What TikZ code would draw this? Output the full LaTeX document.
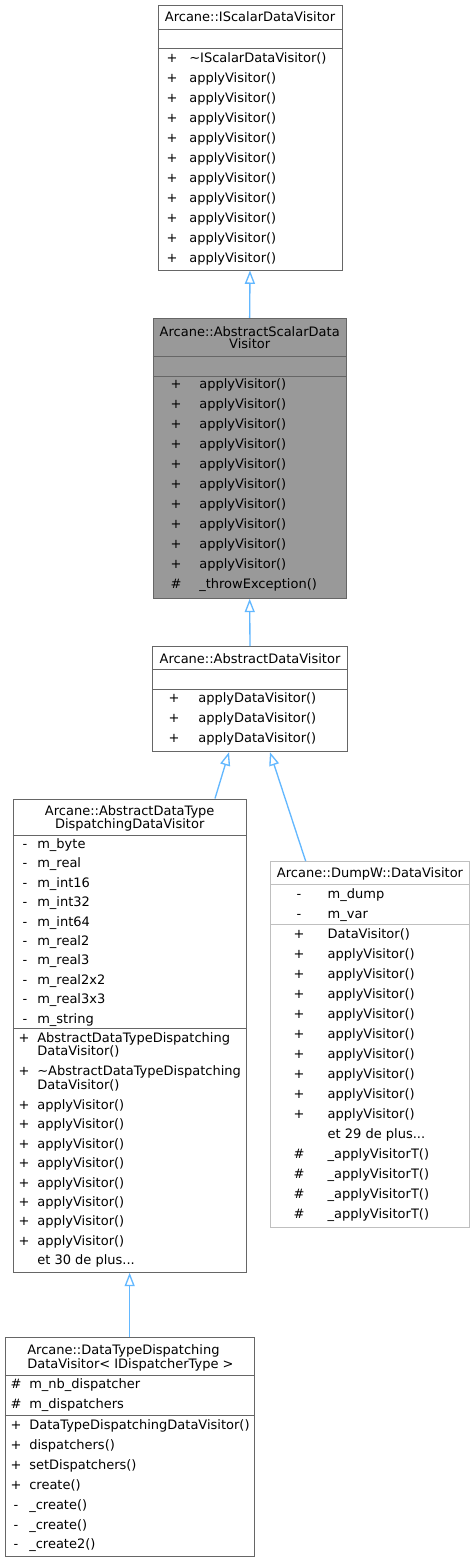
\documentclass[tikz,border=0pt]{standalone}
\usepackage{fontspec}
\setmainfont{DejaVu Sans}
\usetikzlibrary{arrows.meta,fit}
\definecolor{edgeblue}{HTML}{63B8FF}
\definecolor{boxgray}{HTML}{666666}
\definecolor{lightborder}{HTML}{BFBFBF}
\definecolor{mainfill}{HTML}{999999}
\newcommand\umlrows[6]{%
  \foreach \s/\t [count=\i] in {#6}{%
    \node[sym] (#1s\i) at (#2,{#4+#5*(\i-1)}) {\s};
    \node[lt] (#1t\i) at (#3,{#4+#5*(\i-1)}) {\t};
  }}
\begin{document}
\begin{tikzpicture}[x=0.75pt,y=-0.75pt,
  box/.style={draw=boxgray,fill=white,line width=0.75pt,inner sep=0pt},
  sepl/.style={draw=boxgray,line width=0.75pt},
  txt/.style={inner sep=0pt,outer sep=0pt,font=\fontsize{9.75pt}{12pt}\selectfont},
  lt/.style={txt,anchor=base west},
  sym/.style={txt,anchor=base},
  ttl/.style={txt,anchor=base},
  inh/.style={draw=edgeblue,line width=1pt,-{Triangle[open,length=10pt,width=7.5pt]}}]
\fill[white] (0,0) rectangle (475,1563);
\useasboundingbox (0,0) rectangle (475,1563);

% Box 1
\node[box,fit={(158,5) (342,270)}] (b1) {};
\draw[sepl] (b1.west |- 0,29) -- (b1.east |- 0,29);
\draw[sepl] (b1.west |- 0,48.7) -- (b1.east |- 0,48.7);
\node[ttl] (b1title) at (250,21.8) {Arcane::IScalarDataVisitor};
\umlrows{b1m}{172}{189.3}{62.2}{20}{+/\textasciitilde IScalarDataVisitor(), +/applyVisitor(), +/applyVisitor(), +/applyVisitor(), +/applyVisitor(), +/applyVisitor(), +/applyVisitor(), +/applyVisitor(), +/applyVisitor(), +/applyVisitor(), +/applyVisitor()}

% Box 2
\node[box,fill=mainfill,fit={(153.3,318.3) (346,598.3)}] (b2) {};
\draw[sepl] (b2.west |- 0,356) -- (b2.east |- 0,356);
\draw[sepl] (b2.west |- 0,376) -- (b2.east |- 0,376);
\node[ttl] (b2title) at (249.7,336.2) {Arcane::AbstractScalarData};
\node[ttl] (b2titleb) at (249.7,348.8) {Visitor};
\umlrows{b2m}{176}{199.3}{388.8}{20}{+/applyVisitor(), +/applyVisitor(), +/applyVisitor(), +/applyVisitor(), +/applyVisitor(), +/applyVisitor(), +/applyVisitor(), +/applyVisitor(), +/applyVisitor(), +/applyVisitor(), \#/\_throwException()}

% Box 3
\node[box,fit={(152.7,646.7) (347.3,751.7)}] (b3) {};
\draw[sepl] (b3.west |- 0,669.3) -- (b3.east |- 0,669.3);
\draw[sepl] (b3.west |- 0,689.3) -- (b3.east |- 0,689.3);
\node[ttl] (b3title) at (250,663.5) {Arcane::AbstractDataVisitor};
\umlrows{b3m}{174}{198.3}{702.8}{20}{+/applyDataVisitor(), +/applyDataVisitor(), +/applyDataVisitor()}

% Box 4
\node[box,fit={(13.3,799) (246,1272.3)}] (b4) {};
\draw[sepl] (b4.west |- 0,835.7) -- (b4.east |- 0,835.7);
\draw[sepl] (b4.west |- 0,1028.3) -- (b4.east |- 0,1028.3);
\node[ttl] (b4title) at (129.7,815.5) {Arcane::AbstractDataType};
\node[ttl] (b4titleb) at (129.7,828.8) {DispatchingDataVisitor};
\umlrows{b4a}{25}{37.3}{848.5}{19.4}{-/m\_byte, -/m\_real, -/m\_int16, -/m\_int32, -/m\_int64, -/m\_real2, -/m\_real3, -/m\_real2x2, -/m\_real3x3, -/m\_string}
\node[sym] (b4ms1) at (24,1042.2) {+};
\node[lt] (b4mt1) at (37.3,1042.2) {AbstractDataTypeDispatching};
\node[lt] (b4mt1b) at (37.3,1055.5) {DataVisitor()};
\node[sym] (b4ms2) at (24,1075.5) {+};
\node[lt] (b4mt2) at (37.3,1075.5) {\textasciitilde AbstractDataTypeDispatching};
\node[lt] (b4mt2b) at (37.3,1089.5) {DataVisitor()};
\umlrows{b4n}{24}{37.3}{1109.5}{19.4}{+/applyVisitor(), +/applyVisitor(), +/applyVisitor(), +/applyVisitor(), +/applyVisitor(), +/applyVisitor(), +/applyVisitor(), +/applyVisitor(), {}/et 30 de plus.{}.{}.}

% Box 5
\node[box,draw=lightborder,fit={(270.7,861.7) (469.3,1227.3)}] (b5) {};
\draw[sepl,draw=lightborder] (b5.west |- 0,884) -- (b5.east |- 0,884);
\draw[sepl,draw=lightborder] (b5.west |- 0,924.3) -- (b5.east |- 0,924.3);
\node[ttl] (b5title) at (370,877.8) {Arcane::DumpW::DataVisitor};
\umlrows{b5a}{299}{327.7}{898.5}{20}{-/m\_dump, -/m\_var}
\umlrows{b5m}{299}{327.7}{938.8}{20}{+/DataVisitor(), +/applyVisitor(), +/applyVisitor(), +/applyVisitor(), +/applyVisitor(), +/applyVisitor(), +/applyVisitor(), +/applyVisitor(), +/applyVisitor(), +/applyVisitor(), {}/et 29 de plus.{}.{}., \#/\_applyVisitorT(), \#/\_applyVisitorT(), \#/\_applyVisitorT(), \#/\_applyVisitorT()}

% Box 6
\node[box,fit={(5,1337.7) (254.3,1556.7)}] (b6) {};
\draw[sepl] (b6.west |- 0,1375.7) -- (b6.east |- 0,1375.7);
\draw[sepl] (b6.west |- 0,1415.7) -- (b6.east |- 0,1415.7);
\node[lt] (b6title) at (27.3,1354.5) {Arcane::DataTypeDispatching};
\node[lt] (b6titleb) at (27.3,1368.8) {DataVisitor< IDispatcherType >};
\umlrows{b6a}{16}{29.3}{1388.8}{20}{\#/m\_nb\_dispatcher, \#/m\_dispatchers}
\umlrows{b6m}{16}{29.3}{1429.5}{19.9}{+/DataTypeDispatchingDataVisitor(), +/dispatchers(), +/setDispatchers(), +/create(), -/\_create(), -/\_create(), -/\_create2()}

% Inheritance arrows
\draw[inh] (b2.north) -- (b1.south);
\draw[inh] (b3.north) -- (b2.south);
\draw[inh] (b4.north -| 215,0) -- (b3.south -| 229,0);
\draw[inh] (b5.north -| 305.7,0) -- (b3.south -| 270,0);
\draw[inh] (b6.north) -- (b4.south);
\end{tikzpicture}
\end{document}
